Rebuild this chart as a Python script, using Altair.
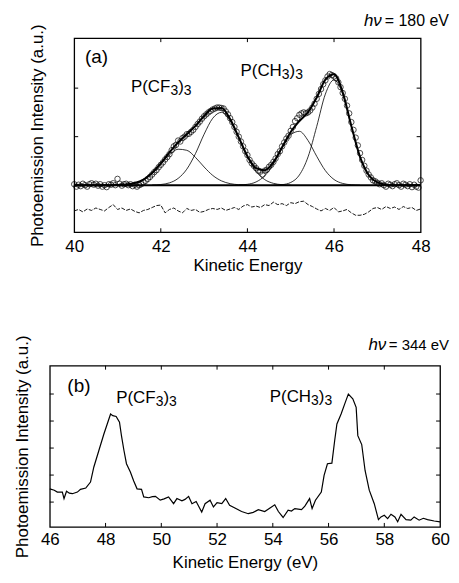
import altair as alt
import pandas as pd

FONT = "Liberation Sans"

# ---------------- panel (a): hv = 180 eV ----------------
a_energy = [round(40 + 0.05 * i, 2) for i in range(161)]
a_counts = [
    0.02, -0.03, 0.01, -0.02, 0.03, 0.00, -0.03, 0.02, 0.04, 0.01,
    0.03, -0.01, 0.02, -0.03, 0.00, -0.04, 0.02, 0.01, 0.04, 0.00,
    0.13, 0.03, -0.01, 0.02, 0.03, 0.00, 0.02, -0.02, 0.01, -0.03,
    0.00, 0.02, 0.06, 0.09, 0.13, 0.17, 0.22, 0.27, 0.31, 0.37,
    0.42, 0.47, 0.53, 0.58, 0.64, 0.72, 0.80, 0.83, 0.92, 0.90,
    0.97, 1.00, 1.05, 1.06, 1.10, 1.14, 1.20, 1.26, 1.31, 1.37,
    1.42, 1.46, 1.50, 1.53, 1.56, 1.58, 1.60, 1.60, 1.59, 1.58,
    1.52, 1.46, 1.38, 1.30, 1.20, 1.10, 1.00, 0.90, 0.80, 0.70,
    0.62, 0.52, 0.45, 0.40, 0.35, 0.30, 0.28, 0.22, 0.30, 0.32,
    0.38, 0.42, 0.48, 0.55, 0.64, 0.70, 0.80, 0.88, 0.96, 1.02,
    1.12, 1.20, 1.32, 1.38, 1.45, 1.48, 1.50, 1.48, 1.50, 1.54,
    1.60, 1.68, 1.78, 1.88, 1.98, 2.08, 2.16, 2.24, 2.29, 2.27,
    2.24, 2.20, 2.12, 2.02, 1.90, 1.78, 1.64, 1.48, 1.30, 1.14,
    0.98, 0.82, 0.66, 0.52, 0.40, 0.30, 0.22, 0.16, 0.10, 0.08,
    0.05, 0.02, 0.04, 0.00, -0.03, 0.03, 0.01, -0.02, 0.02, 0.04,
    0.00, -0.03, 0.03, 0.01, -0.02, 0.02, -0.04, 0.01, -0.03, -0.05,
    0.10,
]
a_fit_energy = [round(40 + 0.2 * i, 1) for i in range(41)]
a_fit = [
    0.0, 0.0, 0.0, 0.0, 0.0, 0.003, 0.014, 0.044, 0.116, 0.251,
    0.449, 0.674, 0.881, 1.049, 1.223, 1.425, 1.581, 1.589, 1.362, 0.984,
    0.598, 0.352, 0.308, 0.475, 0.781, 1.096, 1.32, 1.503, 1.805, 2.177,
    2.287, 1.913, 1.219, 0.583, 0.21, 0.056, 0.011, 0.0, 0.0, 0.0,
    0.0,
]
a_c1_energy = [round(41.2 + 0.2 * i, 1) for i in range(15)]
a_c1 = [0.014, 0.044, 0.116, 0.248, 0.435, 0.626, 0.741, 0.719, 0.573, 0.375,
        0.201, 0.089, 0.032, 0.01, 0.0]
a_c2_energy = [round(41.8 + 0.2 * i, 1) for i in range(17)]
a_c2 = [0.003, 0.014, 0.048, 0.14, 0.33, 0.65, 1.05, 1.38, 1.50, 1.33,
        0.97, 0.58, 0.285, 0.115, 0.038, 0.01, 0.0]
a_c3_energy = [round(43.8 + 0.2 * i, 1) for i in range(15)]
a_c3 = [0.004, 0.018, 0.067, 0.193, 0.435, 0.76, 1.04, 1.11, 0.92, 0.595,
        0.30, 0.117, 0.036, 0.009, 0.0]
a_c4_energy = [round(44.6 + 0.2 * i, 1) for i in range(15)]
a_c4 = [0.002, 0.011, 0.056, 0.21, 0.583, 1.21, 1.877, 2.17, 1.877, 1.21,
        0.583, 0.21, 0.056, 0.011, 0.0]
a_res_energy = [round(40 + 0.1 * i, 1) for i in range(81)]
a_residual = [
    -0.53, -0.50, -0.55, -0.49, -0.52, -0.47, -0.50, -0.53, -0.46, -0.40,
    -0.50, -0.47, -0.52, -0.49, -0.54, -0.57, -0.52, -0.50, -0.46, -0.42,
    -0.41, -0.57, -0.50, -0.47, -0.53, -0.57, -0.48, -0.52, -0.50, -0.56,
    -0.54, -0.50, -0.48, -0.50, -0.47, -0.52, -0.49, -0.46, -0.50, -0.43,
    -0.40, -0.45, -0.43, -0.46, -0.40, -0.42, -0.35, -0.40, -0.38, -0.42,
    -0.36, -0.38, -0.34, -0.33, -0.40, -0.44, -0.49, -0.53, -0.48, -0.52,
    -0.46, -0.55, -0.53, -0.50, -0.57, -0.62, -0.62, -0.60, -0.55, -0.48,
    -0.46, -0.50, -0.44, -0.48, -0.45, -0.50, -0.44, -0.48, -0.46, -0.52,
    -0.49,
]
a_baseline = [0.0]
a_xlabels = [40, 42, 44, 46, 48]
a_xticks = [42, 44, 46]
a_yticks = [1, 2]
a_xdomain = [40, 48]
a_ydomain = [-0.97, 3.03]

# ---------------- panel (b): hv = 344 eV ----------------
b_energy = [
    46.00, 46.16, 46.27, 46.45, 46.51, 46.60, 46.70, 46.81, 46.99, 47.10,
    47.29, 47.46, 47.58, 47.76, 47.94, 48.06, 48.18, 48.26, 48.38, 48.50,
    48.57, 48.66, 48.75, 48.89, 49.01, 49.13, 49.29, 49.37, 49.55, 49.68,
    49.79, 49.96, 50.10, 50.26, 50.44, 50.56, 50.74, 50.85, 50.98, 51.10,
    51.25, 51.45, 51.57, 51.75, 51.87, 52.00, 52.17, 52.31, 52.45, 52.64,
    52.88, 53.12, 53.30, 53.48, 53.71, 53.90, 54.07, 54.20, 54.37, 54.55,
    54.67, 54.79, 55.03, 55.15, 55.32, 55.41, 55.53, 55.74, 55.84, 55.96,
    56.12, 56.22, 56.30, 56.45, 56.60, 56.71, 56.87, 56.99, 57.05, 57.19,
    57.31, 57.46, 57.64, 57.79, 57.88, 58.00, 58.12, 58.24, 58.38, 58.48,
    58.60, 58.78, 58.95, 59.07, 59.25, 59.40, 59.55, 59.79, 60.00,
]
b_intensity = [
    1.49, 1.44, 1.37, 1.37, 1.13, 1.40, 1.33, 1.31, 1.37, 1.47,
    1.52, 1.74, 2.30, 2.91, 3.52, 3.89, 4.26, 4.20, 4.17, 3.96,
    3.46, 2.91, 2.42, 2.11, 1.78, 1.49, 1.47, 1.19, 1.16, 1.20,
    1.21, 1.07, 1.12, 1.19, 0.94, 1.13, 1.05, 1.10, 1.21, 0.94,
    1.02, 0.63, 0.94, 1.07, 0.82, 0.98, 0.94, 1.13, 0.88, 0.78,
    0.65, 0.57, 0.62, 0.72, 0.65, 0.78, 0.90, 0.65, 0.43, 0.70,
    0.67, 0.76, 0.72, 0.85, 1.13, 0.76, 1.07, 1.37, 1.99, 2.42,
    2.44, 3.28, 3.89, 4.26, 4.69, 5.00, 4.82, 4.51, 3.46, 3.13,
    2.17, 1.44, 0.94, 0.35, 0.45, 0.51, 0.39, 0.55, 0.45, 0.27,
    0.55, 0.35, 0.33, 0.45, 0.33, 0.40, 0.35, 0.30, 0.27,
]
b_xlabels = [46, 48, 50, 52, 54, 56, 58, 60]
b_xticks = [48, 50, 52, 54, 56, 58]
b_yticks = [1, 2, 3, 4, 5]
b_xdomain = [46, 60]
b_ydomain = [0.08, 6.05]

# ---------------- helpers ----------------
TICK_PX = 4
MAIN = 17
SUB = 14


def tick_frame(xticks, yticks, xdom, ydom, w, h):
    lx = TICK_PX * (xdom[1] - xdom[0]) / w
    ly = TICK_PX * (ydom[1] - ydom[0]) / h
    rows = []
    for t in xticks:
        rows.append(dict(E=t, E2=t, I=ydom[0], I2=ydom[0] + ly))
        rows.append(dict(E=t, E2=t, I=ydom[1] - ly, I2=ydom[1]))
    for t in yticks:
        rows.append(dict(E=xdom[0], E2=xdom[0] + lx, I=t, I2=t))
        rows.append(dict(E=xdom[1] - lx, E2=xdom[1], I=t, I2=t))
    return pd.DataFrame(rows)


def xaxis(title, labels, lp, tp):
    return alt.Axis(title=title, values=labels, format="d", ticks=False,
                    domain=False, grid=False, labelFontSize=17, titleFontSize=17,
                    titleFontWeight="normal", labelPadding=lp, titlePadding=tp,
                    labelFlush=False, labelColor="black", titleColor="black",
                    labelFont=FONT, titleFont=FONT)


def yaxis(title, tp):
    return alt.Axis(title=title, labels=False, ticks=False, domain=False,
                    grid=False, titleFontSize=17, titleFontWeight="normal",
                    titlePadding=tp, titleColor="black", titleFont=FONT,
                    titleLimit=400)


def make_panel(xs, ys, AXX, AXY):
    def X(f):
        return alt.X(f, scale=xs, axis=AXX)

    def Y(f):
        return alt.Y(f, scale=ys, axis=AXY)

    def XD(v):
        return alt.X(datum=v, scale=xs, axis=AXX)

    def YD(v):
        return alt.Y(datum=v, scale=ys, axis=AXY)

    return X, Y, XD, YD


def text_layer(txt, x, y, size=MAIN, align="left", style="normal", dx=0, dy=0):
    return alt.Chart(pd.DataFrame({"t": [txt]})).mark_text(
        align=align, baseline="alphabetic", fontSize=size, font=FONT,
        fontStyle=style, color="black", dx=dx, dy=dy
    ).encode(x=x, y=y, text="t:N")


def chem_label(prefix, prefix_em, x, y):
    """P(CX3)3 with lowered, smaller subscripts."""
    w0 = prefix_em * MAIN
    w3 = 0.556 * SUB
    wp = 0.333 * MAIN
    return [
        text_layer(prefix, x, y),
        text_layer("3", x, y, size=SUB, dx=w0, dy=3),
        text_layer(")", x, y, dx=w0 + w3),
        text_layer("3", x, y, size=SUB, dx=w0 + w3 + wp, dy=3),
    ]


# ---------------- panel (a) chart ----------------
AW, AH = 348, 195
axs = alt.Scale(domain=a_xdomain, nice=False, zero=False)
ays = alt.Scale(domain=a_ydomain, nice=False, zero=False)
AX_A = xaxis("Kinetic Energy", a_xlabels, 6, 3)
AY_A = yaxis("Photoemission Intensity (a.u.)", 28)
X, Y, XD, YD = make_panel(axs, ays, AX_A, AY_A)

a_pts = pd.DataFrame({"E": a_energy, "I": a_counts})
a_fit_df = pd.DataFrame({"E": a_fit_energy, "I": a_fit})
a_comp_df = pd.concat([
    pd.DataFrame({"E": a_c1_energy, "I": a_c1, "c": "1"}),
    pd.DataFrame({"E": a_c2_energy, "I": a_c2, "c": "2"}),
    pd.DataFrame({"E": a_c3_energy, "I": a_c3, "c": "3"}),
    pd.DataFrame({"E": a_c4_energy, "I": a_c4, "c": "4"}),
])
a_res_df = pd.DataFrame({"E": a_res_energy, "I": a_residual})
a_base_df = pd.DataFrame({"E": [a_xdomain[0]], "E2": [a_xdomain[1]], "I": a_baseline})
a_tick_df = tick_frame(a_xticks, a_yticks, a_xdomain, a_ydomain, AW, AH)

a_base = alt.Chart(a_base_df).mark_rule(strokeWidth=2, color="black").encode(
    x=X("E:Q"), x2="E2:Q", y=Y("I:Q"))
a_points = alt.Chart(a_pts).mark_point(
    shape="circle", filled=False, size=30, strokeWidth=1, color="black"
).encode(x=X("E:Q"), y=Y("I:Q"))
a_comps = alt.Chart(a_comp_df).mark_line(
    strokeWidth=0.8, color="black", interpolate="monotone"
).encode(x=X("E:Q"), y=Y("I:Q"), detail="c:N")
a_fitline = alt.Chart(a_fit_df).mark_line(
    strokeWidth=2, color="black", interpolate="monotone"
).encode(x=X("E:Q"), y=Y("I:Q"))
a_resline = alt.Chart(a_res_df).mark_line(
    strokeWidth=0.9, color="black", strokeDash=[4, 1.5]
).encode(x=X("E:Q"), y=Y("I:Q"))
a_ticks = alt.Chart(a_tick_df).mark_rule(strokeWidth=1, color="black").encode(
    x=X("E:Q"), x2="E2:Q", y=Y("I:Q"), y2="I2:Q")
a_texts = [
    text_layer("(a)", XD(40.25), YD(2.52), size=19),
    *chem_label("P(CF", 2.333, XD(41.31), YD(1.93)),
    *chem_label("P(CH", 2.444, XD(43.84), YD(2.25)),
    text_layer("h\u03bd", alt.value(309), alt.value(-12), align="right", style="italic"),
    text_layer("= 180 eV", alt.value(312), alt.value(-12), size=16),
]
panel_a = alt.layer(a_base, a_comps, a_fitline, a_points, a_resline, a_ticks, *a_texts).properties(
    width=AW, height=AH
)

# ---------------- panel (b) chart ----------------
BW, BH = 392, 162
bxs = alt.Scale(domain=b_xdomain, nice=False, zero=False)
bys = alt.Scale(domain=b_ydomain, nice=False, zero=False)
AX_B = xaxis("Kinetic Energy (eV)", b_xlabels, 5, 7)
AY_B = yaxis("Photoemission Intensity (a.u.)", 18)
X, Y, XD, YD = make_panel(bxs, bys, AX_B, AY_B)

b_df = pd.DataFrame({"E": b_energy, "I": b_intensity})
b_tick_df = tick_frame(b_xticks, b_yticks, b_xdomain, b_ydomain, BW, BH)

b_line = alt.Chart(b_df).mark_line(strokeWidth=1.2, color="black").encode(
    x=X("E:Q"), y=Y("I:Q"))
b_ticks = alt.Chart(b_tick_df).mark_rule(strokeWidth=1, color="black").encode(
    x=X("E:Q"), x2="E2:Q", y=Y("I:Q"), y2="I2:Q")
b_texts = [
    text_layer("(b)", XD(46.63), YD(5.06), size=19),
    *chem_label("P(CF", 2.333, XD(48.38), YD(4.66)),
    *chem_label("P(CH", 2.444, XD(53.89), YD(4.69)),
    text_layer("h\u03bd", alt.value(338), alt.value(-16), align="right", style="italic"),
    text_layer("= 344 eV", alt.value(401), alt.value(-16), size=15, align="right"),
]
panel_b = alt.layer(b_line, b_ticks, *b_texts).properties(width=BW, height=BH)

spacer = alt.Chart(pd.DataFrame({"s": [0]})).mark_point(opacity=0).properties(
    width=1, height=AH, view=alt.ViewBackground(stroke=None)
)

top_row = alt.hconcat(spacer, panel_a, spacing=-26.5)
chart = alt.vconcat(top_row, panel_b, spacing=60).configure_view(
    stroke="black", strokeWidth=1.3
).properties(
    background="white",
    padding={"left": 5, "top": 2, "right": 0, "bottom": 0},
)

chart.save("out.html", embed_options={"renderer": "svg", "actions": False})
